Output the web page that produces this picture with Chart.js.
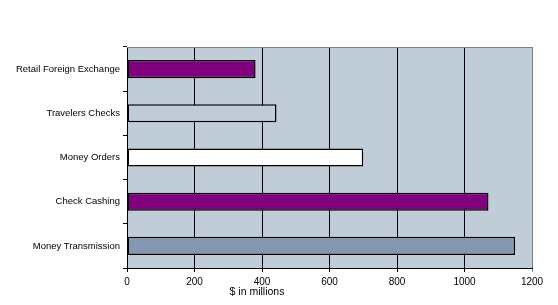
<!DOCTYPE html>
<html>
<head>
<meta charset="utf-8">
<script src="https://cdn.jsdelivr.net/npm/chart.js@4.4.0/dist/chart.umd.min.js"></script>
<style>
  html, body { margin: 0; padding: 0; background: #fff; }
  #wrap { width: 558px; height: 305px; position: relative; }
</style>
</head>
<body>
<div id="wrap"><canvas id="chart"></canvas></div>
<script>
// categories top to bottom
const categories = [
  "Retail Foreign Exchange",
  "Travelers Checks",
  "Money Orders",
  "Check Cashing",
  "Money Transmission"
];
const amounts = [381, 443, 700, 1071, 1150];
const barColors = ["#800080", "#C0CCD8", "#FFFFFF", "#800080", "#8499B1"];
const xTicks = [0, 200, 400, 600, 800, 1000, 1200];
const axisTitle = "$ in millions";

const FONT = "Liberation Sans, Arial, sans-serif";

// plot area background + gray frame, and the axis title
const plotFrame = {
  id: "plotFrame",
  beforeDraw(chart) {
    const { ctx, chartArea: a } = chart;
    ctx.save();
    ctx.fillStyle = "#C0CCD8";
    ctx.fillRect(a.left, a.top, a.right - a.left, a.bottom - a.top);
    ctx.restore();
  },
  afterDraw(chart) {
    const { ctx, chartArea: a } = chart;
    ctx.save();
    ctx.strokeStyle = "#808080";
    ctx.lineWidth = 1;
    ctx.beginPath();
    ctx.moveTo(a.left, a.top + 0.5);
    ctx.lineTo(a.right + 0.5, a.top + 0.5);
    ctx.lineTo(a.right + 0.5, a.bottom);
    ctx.stroke();
    ctx.fillStyle = "#000";
    ctx.font = "10.5px " + FONT;
    ctx.textAlign = "center";
    ctx.textBaseline = "middle";
    ctx.fillText(axisTitle, 257, 292);
    ctx.restore();
  }
};

new Chart(document.getElementById("chart"), {
  type: "bar",
  data: {
    labels: categories,
    datasets: [{
      data: amounts,
      backgroundColor: barColors,
      borderColor: "#000",
      borderWidth: 1.5,
      borderSkipped: false,
      categoryPercentage: 0.41,
      barPercentage: 1
    }]
  },
  options: {
    indexAxis: "y",
    responsive: true,
    maintainAspectRatio: false,
    animation: false,
    layout: { padding: { top: 47, right: 26, left: 0, bottom: 0 } },
    plugins: { legend: { display: false }, tooltip: { enabled: false } },
    scales: {
      x: {
        min: 0,
        max: 1200,
        afterBuildTicks: s => { s.ticks = xTicks.map(v => ({ value: v })); },
        afterFit: s => { s.height = 37; },
        grid: {
          color: c => (c.tick && c.tick.value === 1200 ? "#808080" : "#000"),
          lineWidth: 1,
          tickLength: 4,
          drawOnChartArea: true
        },
        border: { color: "#000", width: 1 },
        ticks: {
          color: "#000",
          padding: 4,
          maxRotation: 0,
          font: { family: FONT, size: 10 },
          callback: v => String(v)
        }
      },
      y: {
        afterFit: s => { s.width = 127; },
        grid: {
          offset: true,
          drawOnChartArea: false,
          color: "#000",
          tickLength: 4
        },
        border: { color: "#000", width: 1 },
        ticks: {
          color: "#000",
          padding: 3,
          font: { family: FONT, size: 9.5 }
        }
      }
    }
  },
  plugins: [plotFrame]
});
</script>
</body>
</html>
